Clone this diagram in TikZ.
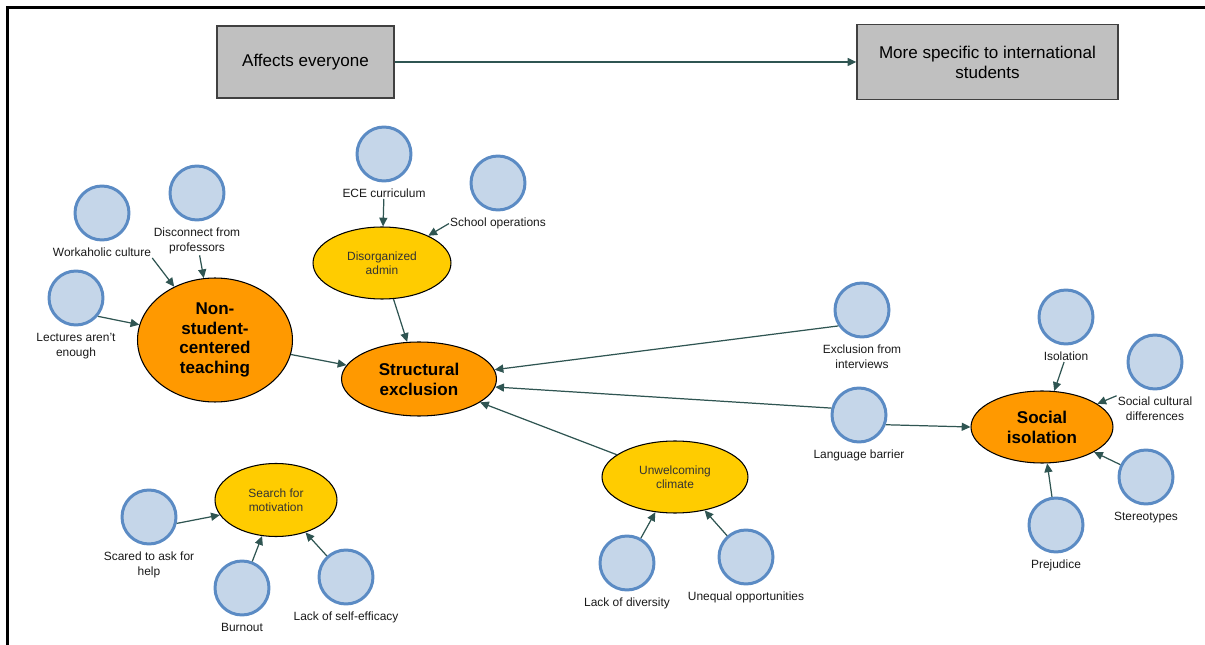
\documentclass[tikz,border=0pt]{standalone}
\usepackage{fontspec}
\setmainfont{Liberation Sans}
\usepackage{xcolor}
\usepackage{tikz}
\usetikzlibrary{shapes.geometric, arrows.meta, positioning}

\definecolor{boxgray}{HTML}{C0C0C0}
\definecolor{boxline}{HTML}{404040}
\definecolor{coreorange}{HTML}{FF9900}
\definecolor{subyellow}{HTML}{FFCC00}
\definecolor{factorfill}{HTML}{C5D6E9}
\definecolor{factorline}{HTML}{5B8BC4}
\definecolor{linkcol}{HTML}{2F5552}

\tikzset{
  cat/.style={rectangle, fill=boxgray, draw=boxline, line width=0.8pt, align=center, inner sep=0pt, font=\fontsize{9.7}{11.3}\selectfont},
  core/.style={ellipse, fill=coreorange, draw=black, line width=0.6pt, align=center, inner sep=0pt, font=\fontsize{9.7}{11.3}\selectfont\bfseries},
  sub/.style={ellipse, fill=subyellow, draw=black, line width=0.6pt, align=center, inner sep=0pt, text=black!80, font=\fontsize{6.8}{8}\selectfont},
  factor/.style={circle, fill=factorfill, draw=factorline, line width=1.7pt, minimum size=1.08cm, inner sep=0pt},
  lbl/.style={align=center, inner sep=0.5pt, text=black!90, font=\fontsize{6.8}{8.5}\selectfont},
  link/.style={-{Triangle[length=5pt,width=4.6pt]}, draw=linkcol, line width=0.7pt}
}

\begin{document}
\begin{tikzpicture}[x=0.02cm, y=-0.02cm]
\useasboundingbox (0,0) rectangle (1205,645);
\draw[line width=1.5pt] (7.5,645) -- (7.5,7.5) -- (1205,7.5);

% the two categories
\node[cat, minimum width=3.54cm, minimum height=1.44cm] (every) at (305.5,62) {Affects everyone};
\node[cat, minimum width=5.22cm, minimum height=1.5cm] (specific) at (987.5,62) {More specific to international\\students};
\draw[link] (every) -- (specific);

% main themes
\node[core, minimum width=3.1cm, minimum height=2.48cm] (teach) at (215,340) {Non-\\student-\\centered\\teaching};
\node[core, minimum width=3.1cm, minimum height=1.48cm] (struct) at (419,379) {Structural\\exclusion};
\node[core, minimum width=2.84cm, minimum height=1.44cm] (social) at (1042,427) {Social\\isolation};

\node[sub, minimum width=2.76cm, minimum height=1.44cm] (admin) at (382,263) {Disorganized\\admin};
\node[sub, minimum width=2.92cm, minimum height=1.44cm] (climate) at (675,477) {Unwelcoming\\climate};
\node[sub, minimum width=2.44cm, minimum height=1.46cm] (motiv) at (276,500) {Search for\\motivation};

% factors
\node[factor] (work) at (102,213) {};
\node[lbl, below=3pt of work] (work-l) {Workaholic culture};
\node[factor] (disc) at (197,193) {};
\node[lbl, below=3pt of disc] (disc-l) {Disconnect from\\professors};
\node[factor] (lect) at (76,298) {};
\node[lbl, below=3pt of lect] (lect-l) {Lectures aren't\\enough};
\node[factor] (ece) at (384,154) {};
\node[lbl, below=3pt of ece] (ece-l) {ECE curriculum};
\node[factor] (school) at (498,183) {};
\node[lbl, below=3pt of school] (school-l) {School operations};
\node[factor] (interv) at (862,310) {};
\node[lbl, below=3pt of interv] (interv-l) {Exclusion from\\interviews};
\node[factor] (lang) at (859,415) {};
\node[lbl, below=3pt of lang] (lang-l) {Language barrier};
\node[factor] (iso) at (1066,317) {};
\node[lbl, below=3pt of iso] (iso-l) {Isolation};
\node[factor] (cult) at (1155,362) {};
\node[lbl, below=3pt of cult] (cult-l) {Social cultural\\differences};
\node[factor] (stereo) at (1146,477) {};
\node[lbl, below=3pt of stereo] (stereo-l) {Stereotypes};
\node[factor] (prej) at (1056,525) {};
\node[lbl, below=3pt of prej] (prej-l) {Prejudice};
\node[factor] (divers) at (627,563) {};
\node[lbl, below=3pt of divers] (divers-l) {Lack of diversity};
\node[factor] (unequal) at (746,557) {};
\node[lbl, below=3pt of unequal] (unequal-l) {Unequal opportunities};
\node[factor] (scared) at (149,517) {};
\node[lbl, below=3pt of scared] (scared-l) {Scared to ask for\\help};
\node[factor] (burn) at (242,588) {};
\node[lbl, below=3pt of burn] (burn-l) {Burnout};
\node[factor] (effic) at (346,577) {};
\node[lbl, below=3pt of effic] (effic-l) {Lack of self-efficacy};

% links
\draw[link] (work-l.south east) -- (teach);
\draw[link] (disc-l) -- (teach);
\draw[link] (lect.-40) -- (teach);
\draw[link] (teach) -- (struct);
\draw[link] (ece-l) -- (admin);
\draw[link] (school-l.west) -- (admin);
\draw[link] (admin) -- (struct);
\draw[link] (interv.214) -- (struct.7);
\draw[link] (lang.166) -- (struct.-6);
\draw[link] (lang.-20) -- (social.west);
\draw[link] (climate) -- (struct);
\draw[link] (divers) -- (climate);
\draw[link] (unequal) -- (climate);
\draw[link] (scared.-13) -- (motiv.195);
\draw[link] (burn) -- (motiv);
\draw[link] (effic) -- (motiv);
\draw[link] (iso-l) -- (social);
\draw[link] (cult-l.north west) -- (social);
\draw[link] (stereo) -- (social);
\draw[link] (prej) -- (social);
\end{tikzpicture}
\end{document}
